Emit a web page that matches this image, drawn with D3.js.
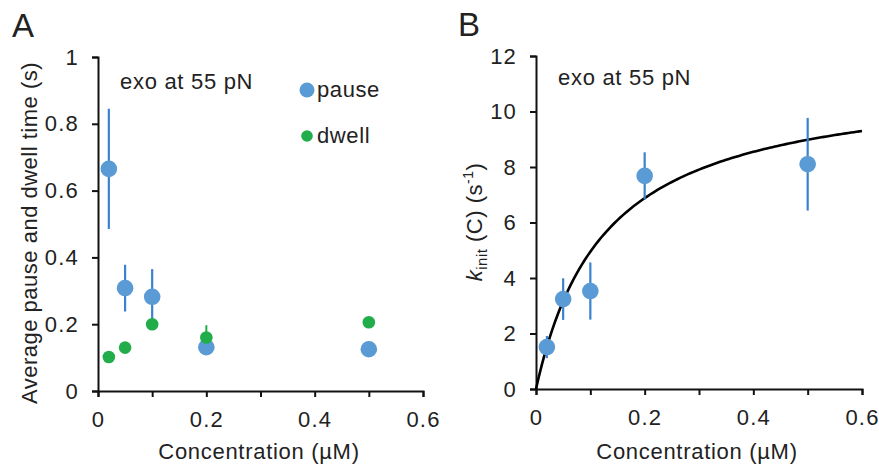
<!DOCTYPE html>
<html><head><meta charset="utf-8">
<script src="https://cdn.jsdelivr.net/npm/d3@7"></script>
<style>
body{margin:0;background:#fff;}
svg{display:block;font-family:"Liberation Sans",Arial,sans-serif;}
.axis text{font-size:22px;fill:#222;font-family:"Liberation Sans",Arial,sans-serif;letter-spacing:1.2px;}
.axis path,.axis line{stroke:#111;stroke-width:2;}
</style></head>
<body>
<svg id="c" width="879" height="464"></svg>
<script>
// ---- data ----
const concentrations = [0.02, 0.05, 0.1, 0.2, 0.5];
const pauseMean = [0.665, 0.308, 0.282, 0.131, 0.125];
const pauseErr  = [0.18, 0.07, 0.083, 0.015, 0.023];
const dwellMean = [0.102, 0.13, 0.2, 0.16, 0.206];
const dwellErr  = [0, 0, 0, 0.037, 0];
const kInit     = [1.51, 3.24, 3.53, 7.68, 8.1];
const kInitErr  = [0.4, 0.75, 1.03, 0.85, 1.67];
const fitKmax = 11.28, fitKm = 0.128;   // Michaelis-Menten fit parameters
const xTicks  = [0, 0.1, 0.2, 0.3, 0.4, 0.5, 0.6];
const yTicksA = [0, 0.2, 0.4, 0.6, 0.8, 1];
const yTicksB = [0, 2, 4, 6, 8, 10, 12];

const svg = d3.select("#c");
const blueFill = "#5b9bd5", blueLine = "#3a82cf", green = "#22ad4b";

function xAxis(g, x, y0) {
  g.attr("class","axis").attr("transform",`translate(0,${y0})`)
   .call(d3.axisBottom(x).tickValues(xTicks).tickSize(6).tickPadding(14)
     .tickFormat(d => (Math.round(d*10) % 2 === 0) ? d3.format("~g")(d) : ""));
}
function yAxis(g, y, x0, ticks) {
  g.attr("class","axis").attr("transform",`translate(${x0},0)`)
   .call(d3.axisLeft(y).tickValues(ticks).tickSize(6).tickPadding(13).tickFormat(d3.format("~g")));
}

// ---- Panel A ----
const xA = d3.scaleLinear().domain([0,0.6]).range([98,423]);
const yA = d3.scaleLinear().domain([0,1]).range([391,57]);
svg.append("g").call(xAxis, xA, 391);
svg.append("g").call(yAxis, yA, 98, yTicksA);

const gA = svg.append("g");
gA.selectAll(".pe").data(concentrations).join("line")
  .attr("x1",(d)=>xA(d)).attr("x2",(d)=>xA(d))
  .attr("y1",(d,i)=>yA(pauseMean[i]+pauseErr[i])).attr("y2",(d,i)=>yA(pauseMean[i]-pauseErr[i]))
  .attr("stroke",blueLine).attr("stroke-width",2.2);
gA.selectAll(".de").data(concentrations).join("line")
  .attr("x1",(d)=>xA(d)).attr("x2",(d)=>xA(d))
  .attr("y1",(d,i)=>yA(dwellMean[i]+dwellErr[i])).attr("y2",(d,i)=>yA(dwellMean[i]-dwellErr[i]))
  .attr("stroke",green).attr("stroke-width",2);
gA.selectAll(".pd").data(concentrations).join("circle")
  .attr("cx",d=>xA(d)).attr("cy",(d,i)=>yA(pauseMean[i])).attr("r",8.3).attr("fill",blueFill);
gA.selectAll(".dd").data(concentrations).join("circle")
  .attr("cx",d=>xA(d)).attr("cy",(d,i)=>yA(dwellMean[i])).attr("r",6.3).attr("fill",green);

// legend
svg.append("circle").attr("cx",307).attr("cy",90).attr("r",7.5).attr("fill",blueFill);
svg.append("text").attr("x",317).attr("y",97).attr("font-size",22).attr("fill","#222").style("letter-spacing","0.6px").text("pause");
svg.append("circle").attr("cx",307).attr("cy",136).attr("r",5.8).attr("fill",green);
svg.append("text").attr("x",317).attr("y",143).attr("font-size",22).attr("fill","#222").style("letter-spacing","0.6px").text("dwell");

svg.append("text").attr("x",120).attr("y",89).attr("font-size",22).attr("fill","#222").style("letter-spacing","0.7px").text("exo at 55 pN");
svg.append("text").attr("x",12).attr("y",37).attr("font-size",33).attr("fill","#222").text("A");
svg.append("text").attr("transform","translate(37,233) rotate(-90)").attr("text-anchor","middle")
  .attr("font-size",22).attr("fill","#222").style("letter-spacing","0.5px").text("Average pause and dwell time (s)");
svg.append("text").attr("x",259).attr("y",459).attr("text-anchor","middle")
  .attr("font-size",22).attr("fill","#222").style("letter-spacing","0.7px").text("Concentration (µM)");

// ---- Panel B ----
const xB = d3.scaleLinear().domain([0,0.6]).range([536,862]);
const yB = d3.scaleLinear().domain([0,12]).range([389,56]);
svg.append("g").call(xAxis, xB, 389);
svg.append("g").call(yAxis, yB, 536, yTicksB);

const gB = svg.append("g");
const fitX = d3.range(0, 0.6001, 0.005);
gB.append("path").datum(fitX)
  .attr("d", d3.line().x(d=>xB(d)).y(d=>yB(fitKmax*d/(fitKm+d))))
  .attr("fill","none").attr("stroke","#000").attr("stroke-width",2.6);
gB.selectAll(".ke").data(concentrations).join("line")
  .attr("x1",d=>xB(d)).attr("x2",d=>xB(d))
  .attr("y1",(d,i)=>yB(kInit[i]+kInitErr[i])).attr("y2",(d,i)=>yB(kInit[i]-kInitErr[i]))
  .attr("stroke",blueLine).attr("stroke-width",2.2);
gB.selectAll(".kd").data(concentrations).join("circle")
  .attr("cx",d=>xB(d)).attr("cy",(d,i)=>yB(kInit[i])).attr("r",8.3).attr("fill",blueFill);

svg.append("text").attr("x",558).attr("y",85).attr("font-size",22).attr("fill","#222").style("letter-spacing","0.7px").text("exo at 55 pN");
svg.append("text").attr("x",458).attr("y",36).attr("font-size",33).attr("fill","#222").text("B");
const yl = svg.append("text").attr("transform","translate(482,222) rotate(-90)").attr("text-anchor","middle")
  .attr("font-size",22).attr("fill","#222").style("letter-spacing","0.5px");
yl.append("tspan").attr("font-style","italic").text("k");
yl.append("tspan").attr("font-size",15).attr("dy",5).text("init");
yl.append("tspan").attr("dy",-5).text(" (C) (s");
yl.append("tspan").attr("font-size",14).attr("dy",-9).text("-1");
yl.append("tspan").attr("dy",9).text(")");
svg.append("text").attr("x",697).attr("y",459).attr("text-anchor","middle")
  .attr("font-size",22).attr("fill","#222").style("letter-spacing","0.7px").text("Concentration (µM)");
</script>
</body></html>
